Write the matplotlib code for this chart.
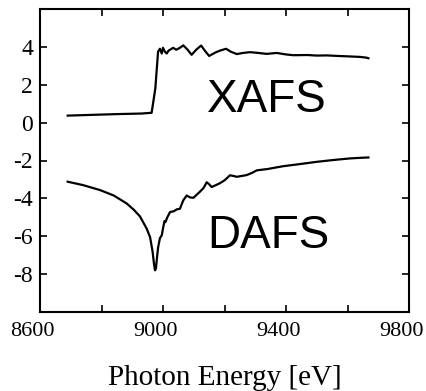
import matplotlib
matplotlib.use("Agg")
import matplotlib.pyplot as plt
import matplotlib.transforms as mtransforms
import numpy as np

# XAFS curve (energy eV, signal)
xafs_e = [8690, 8750, 8850, 8930, 8963, 8975, 8984, 8990, 8996, 9000, 9006, 9012, 9018, 9023, 9033,
          9043, 9055, 9066, 9080, 9093, 9108, 9124, 9136, 9150, 9170, 9185, 9205, 9220, 9240,
          9260, 9283, 9310, 9337, 9370, 9400, 9424, 9470, 9500, 9532, 9570, 9600, 9641, 9662, 9668]
xafs_y = [0.37, 0.40, 0.45, 0.48, 0.52, 1.8, 3.75, 3.9, 3.65, 3.95, 3.75, 3.65, 3.8, 3.85, 3.95,
          3.85, 3.95, 4.08, 3.85, 3.58, 3.85, 4.07, 3.8, 3.52, 3.7, 3.8, 3.9, 3.75, 3.62,
          3.68, 3.72, 3.68, 3.63, 3.68, 3.6, 3.56, 3.57, 3.54, 3.55, 3.52, 3.5, 3.47, 3.43, 3.40]

# DAFS curve (energy eV, signal)
dafs_e = [8690, 8740, 8795, 8840, 8882, 8905, 8925, 8947, 8958, 8966, 8971, 8974, 8977, 8980, 8984,
          8990, 8996, 9001, 9005, 9008, 9014, 9023, 9035, 9045, 9055, 9066, 9077, 9088, 9099,
          9110, 9120, 9132, 9142, 9150, 9158, 9172, 9185, 9200, 9218, 9230, 9240, 9255, 9272,
          9290, 9305, 9340, 9391, 9440, 9500, 9550, 9608, 9640, 9668]
dafs_y = [-3.12, -3.3, -3.56, -3.85, -4.27, -4.6, -4.95, -5.6, -6.05, -6.8, -7.5, -7.8, -7.7, -7.2, -6.6,
          -6.1, -5.95, -5.5, -5.2, -5.25, -5.0, -4.72, -4.68, -4.58, -4.55, -4.1, -3.85, -3.95, -3.97,
          -3.8, -3.65, -3.45, -3.15, -3.25, -3.4, -3.3, -3.2, -3.05, -2.78, -2.82, -2.86, -2.82, -2.77,
          -2.65, -2.52, -2.45, -2.3, -2.2, -2.07, -1.98, -1.89, -1.86, -1.84]

x_major = [8600, 9000, 9400, 9800]
y_major = [-8, -6, -4, -2, 0, 2, 4]

fig = plt.figure(figsize=(4.27, 3.91), dpi=100)
ax = fig.add_axes([40/427, 79/391, 369/427, 303/391])

ax.plot(xafs_e, xafs_y, color="black", lw=1.6)
ax.plot(dafs_e, dafs_y, color="black", lw=1.6)

ax.set_xlim(8600, 9800)
ax.set_ylim(-10, 6)
ax.set_xticks(x_major)
ax.set_xticks(np.arange(8600, 9801, 200), minor=True)
ax.set_yticks(y_major)
ax.set_yticks(np.arange(-10, 6.1, 2), minor=True)
serif = "Liberation Serif"
ax.set_xticklabels([str(v) for v in x_major], family=serif, fontsize=16)
ax.set_yticklabels([str(v) for v in y_major], family=serif, fontsize=17)
ax.tick_params(which="both", direction="in", top=True, right=True, length=5, width=1.2)
ax.tick_params(axis="x", pad=7)
ax.tick_params(axis="y", pad=5)
shift = mtransforms.ScaledTranslation(-8/100, 0, fig.dpi_scale_trans)
for lab in ax.get_xticklabels():
    lab.set_transform(lab.get_transform() + shift)
for s in ax.spines.values():
    s.set_linewidth(1.5)

ax.text(9143, 0.55, "XAFS", family="Liberation Sans", fontsize=33, va="baseline", ha="left")
ax.text(9143, -6.62, "DAFS", family="Liberation Sans", fontsize=33, va="baseline", ha="left")

ax.set_xlabel("Photon Energy [eV]", family=serif, fontsize=21, labelpad=17.5)

fig.savefig("out.png", dpi=100)
